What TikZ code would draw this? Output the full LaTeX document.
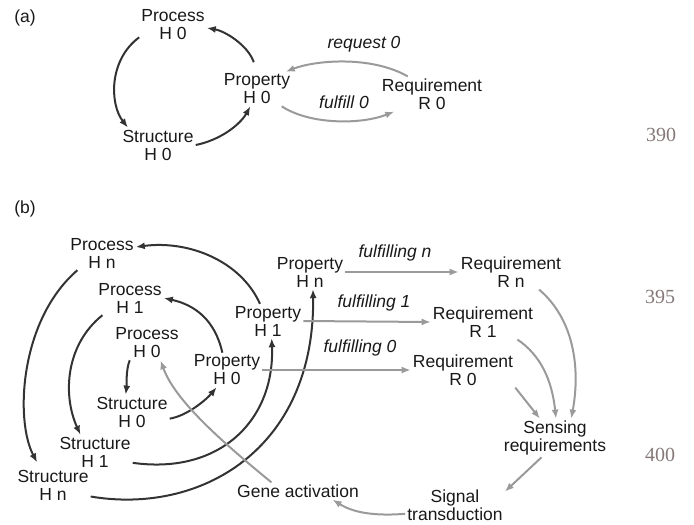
\documentclass[tikz,border=0pt]{standalone}
\usepackage{fontspec}
\setmainfont{Liberation Sans}
\newfontfamily\numfont{Liberation Serif}
\usetikzlibrary{arrows.meta}
\definecolor{darkarr}{HTML}{333333}
\definecolor{lightarr}{HTML}{9A9A9A}
\definecolor{linenum}{HTML}{857878}

\begin{document}
\begin{tikzpicture}[x=1pt,y=1pt,>={Latex[length=9pt,width=7pt]},
    every node/.style={font=\fontsize{17.5}{18}\selectfont, align=center, inner sep=2pt, text=black!90},
    lab/.style={font=\fontsize{17.5}{18}\selectfont\itshape},
    num/.style={font=\numfont\fontsize{20}{20}\selectfont, text=linenum},
    dk/.style={->, draw=darkarr, line width=2pt},
    lt/.style={->, draw=lightarr, line width=2pt}]
    \useasboundingbox (0,0) rectangle (694,-525);

    % (a)
    \node (tagA) at (25,-18) {(a)};
    \node (procA) at (173,-25) {Process\\H 0};
    \node (strA) at (158,-145) {Structure\\H 0};
    \node (propA) at (257,-89) {Property\\H 0};
    \node (reqA) at (432,-94) {Requirement\\R 0};
    \node[lab] (reqLab) at (364,-44) {request 0};
    \node[lab] (fulLab) at (344,-102) {fulfill 0};

    \draw[dk] (procA.200) .. controls +(-31,-23) and +(-18,23) .. (strA.150);
    \draw[dk] (strA.east) .. controls +(25,5) and +(-10,-18) .. (propA.249);
    \draw[dk, shorten <=10pt] (propA.north) .. controls +(-9,26.5) and +(18,-3) .. (procA.355);
    \draw[lt] (reqA.144) .. controls +(-38,21.5) and +(28,11) .. (propA.31);
    \draw[lt] (propA.325) .. controls +(27,-18) and +(-34.5,-13.5) .. (reqA.205);

    % (b)
    \node (tagB) at (25,-209) {(b)};
    \node (procN) at (102,-253) {Process\\H n};
    \node (proc1) at (130,-298) {Process\\H 1};
    \node (proc0) at (147,-343) {Process\\H 0};
    \node (prop0) at (227,-370) {Property\\H 0};
    \node (prop1) at (268,-321) {Property\\H 1};
    \node (propN) at (310,-272) {Property\\H n};
    \node (str0) at (132,-412) {Structure\\H 0};
    \node (str1) at (95,-452) {Structure\\H 1};
    \node (strN) at (53,-485) {Structure\\H n};
    \node (gene) at (298,-491) {Gene activation};
    \node (reqN) at (511,-272) {Requirement\\R n};
    \node (req1) at (483,-322) {Requirement\\R 1};
    \node (req0) at (463,-370) {Requirement\\R 0};
    \node[lab] (labN) at (395,-253) {fulfilling n};
    \node[lab] (lab1) at (374,-303) {fulfilling 1};
    \node[lab] (lab0) at (360,-348) {fulfilling 0};
    \node (sense) at (555,-438) {Sensing\\requirements};
    \node (signal) at (455,-505) {Signal\\transduction};

    % inner loops
    \draw[dk] (prop1.115) .. controls +(-19.6,43.5) and +(52,7) .. (procN.10);
    \draw[dk, shorten >=6pt] (procN.215) .. controls +(-58,-50) and +(-25,47) .. (strN.127);
    \draw[dk] (strN.343) .. controls +(109.5,-18.5) and +(2,-160.5) .. (propN.280);
    \draw[dk] (proc1.212) .. controls +(-37,-29.5) and +(-18,39.5) .. (str1.130);
    \draw[dk] (str1.344) .. controls +(87.5,-12.3) and +(3.3,-81.5) .. (prop1.282);
    \draw[dk] (prop0.105) .. controls +(-7.3,32.5) and +(31.4,-7) .. (proc1.east);
    \draw[dk] (proc0.225) .. controls +(-4,-10) and +(1,8) .. (str0.110);
    \draw[dk] (str0.350) .. controls +(18,3) and +(-10,-12) .. (prop0.239);

    % requirements
    \draw[lt] (gene.162) .. controls +(-52,42.6) and +(14.2,-39.5) .. (proc0.308);
    \draw[lt] (prop0.east) -- (req0.west);
    \draw[lt] (prop1.east) -- (req1.west);
    \draw[lt] (propN.east) -- (reqN.west);
    \draw[lt] (reqN.328) .. controls +(35.8,-30.5) and +(9,48.8) .. (sense.50);
    \draw[lt] (req1.333) .. controls +(23,-15.5) and +(-4,38.8) .. (sense.87);
    \draw[lt] (req0.south east) -- (sense.128);
    \draw[lt] (sense.235) -- (signal.15);
    \draw[lt] (signal.190) .. controls +(-25,-2) and +(23,-14.6) .. (gene.346);

    % line numbers
    \node[num] (n390) at (661,-135) {390};
    \node[num] (n395) at (660,-297) {395};
    \node[num] (n400) at (660,-455) {400};
\end{tikzpicture}
\end{document}
